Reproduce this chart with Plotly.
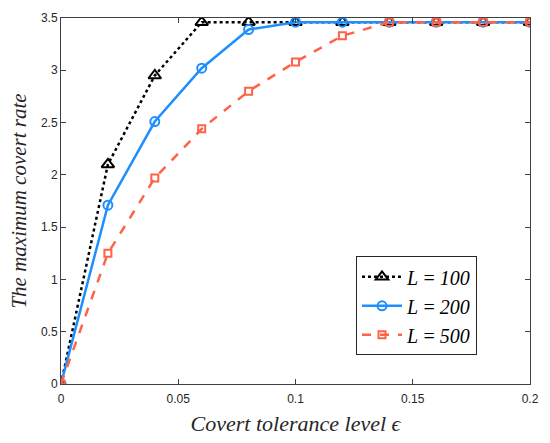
import plotly.graph_objects as go

# Covert tolerance level epsilon
eps = [0, 0.02, 0.04, 0.06, 0.08, 0.10, 0.12, 0.14, 0.16, 0.18, 0.20]

# Maximum covert rate for each block length L
rate_L100 = [0, 2.10, 2.95, 3.46, 3.46, 3.46, 3.46, 3.46, 3.46, 3.46, 3.46]
rate_L200 = [0, 1.71, 2.51, 3.02, 3.39, 3.46, 3.46, 3.46, 3.46, 3.46, 3.46]
rate_L500 = [0, 1.25, 1.97, 2.44, 2.80, 3.08, 3.33, 3.46, 3.46, 3.46, 3.46]

labels = ["L\u2009=\u2009100", "L\u2009=\u2009200", "L\u2009=\u2009500"]

series = [
    (labels[0], rate_L100, "black", "dot", "triangle-up-open", 11),
    (labels[1], rate_L200, "#1E8FFF", "solid", "circle-open", 9),
    (labels[2], rate_L500, "#FF6347", "dash", "square-open", 7),
]

fig = go.Figure()
for name, y, color, dash, symbol, msize in series:
    fig.add_trace(go.Scatter(
        x=eps, y=y, name=name, mode="lines+markers",
        line=dict(color=color, width=2.5, dash=dash),
        marker=dict(symbol=symbol, size=msize, color=color,
                    line=dict(color=color, width=2)),
    ))

axis_common = dict(
    showline=True, linecolor="#404040", linewidth=1, mirror="ticks",
    ticks="inside", ticklen=5, tickcolor="#404040",
    showgrid=False, zeroline=False,
    tickfont=dict(family="Liberation Sans, Arial", size=12, color="#262626"),
)

serif = "Liberation Serif, Times New Roman"

fig.update_layout(
    width=550, height=443,
    margin=dict(l=60.5, r=11.5, t=11, b=57),
    paper_bgcolor="white", plot_bgcolor="white",
    xaxis=dict(range=[0, 0.2], tickvals=[0, 0.05, 0.1, 0.15, 0.2],
               ticktext=["0", "0.05", "0.1", "0.15", "0.2"],
               ticklabelstandoff=4,
               title=dict(text="Covert tolerance level ϵ", standoff=10,
                          font=dict(family=serif, size=22, color="#262626",
                                    style="italic")),
               **axis_common),
    yaxis=dict(range=[0, 3.5], tickvals=[0, 0.5, 1, 1.5, 2, 2.5, 3, 3.5],
               ticktext=["0", "0.5", "1", "1.5", "2", "2.5", "3", "3.5"],
               title=dict(text="The maximum covert rate", standoff=8,
                          font=dict(family=serif, size=21, color="#262626",
                                    style="italic")),
               **axis_common),
    legend=dict(x=0.629, y=0.349, xanchor="left", yanchor="top",
                bgcolor="white", bordercolor="#262626", borderwidth=1,
                itemwidth=40, tracegroupgap=0,
                font=dict(family=serif, size=20, color="black",
                          style="italic")),
    showlegend=True,
)

fig.write_html("out.html")
